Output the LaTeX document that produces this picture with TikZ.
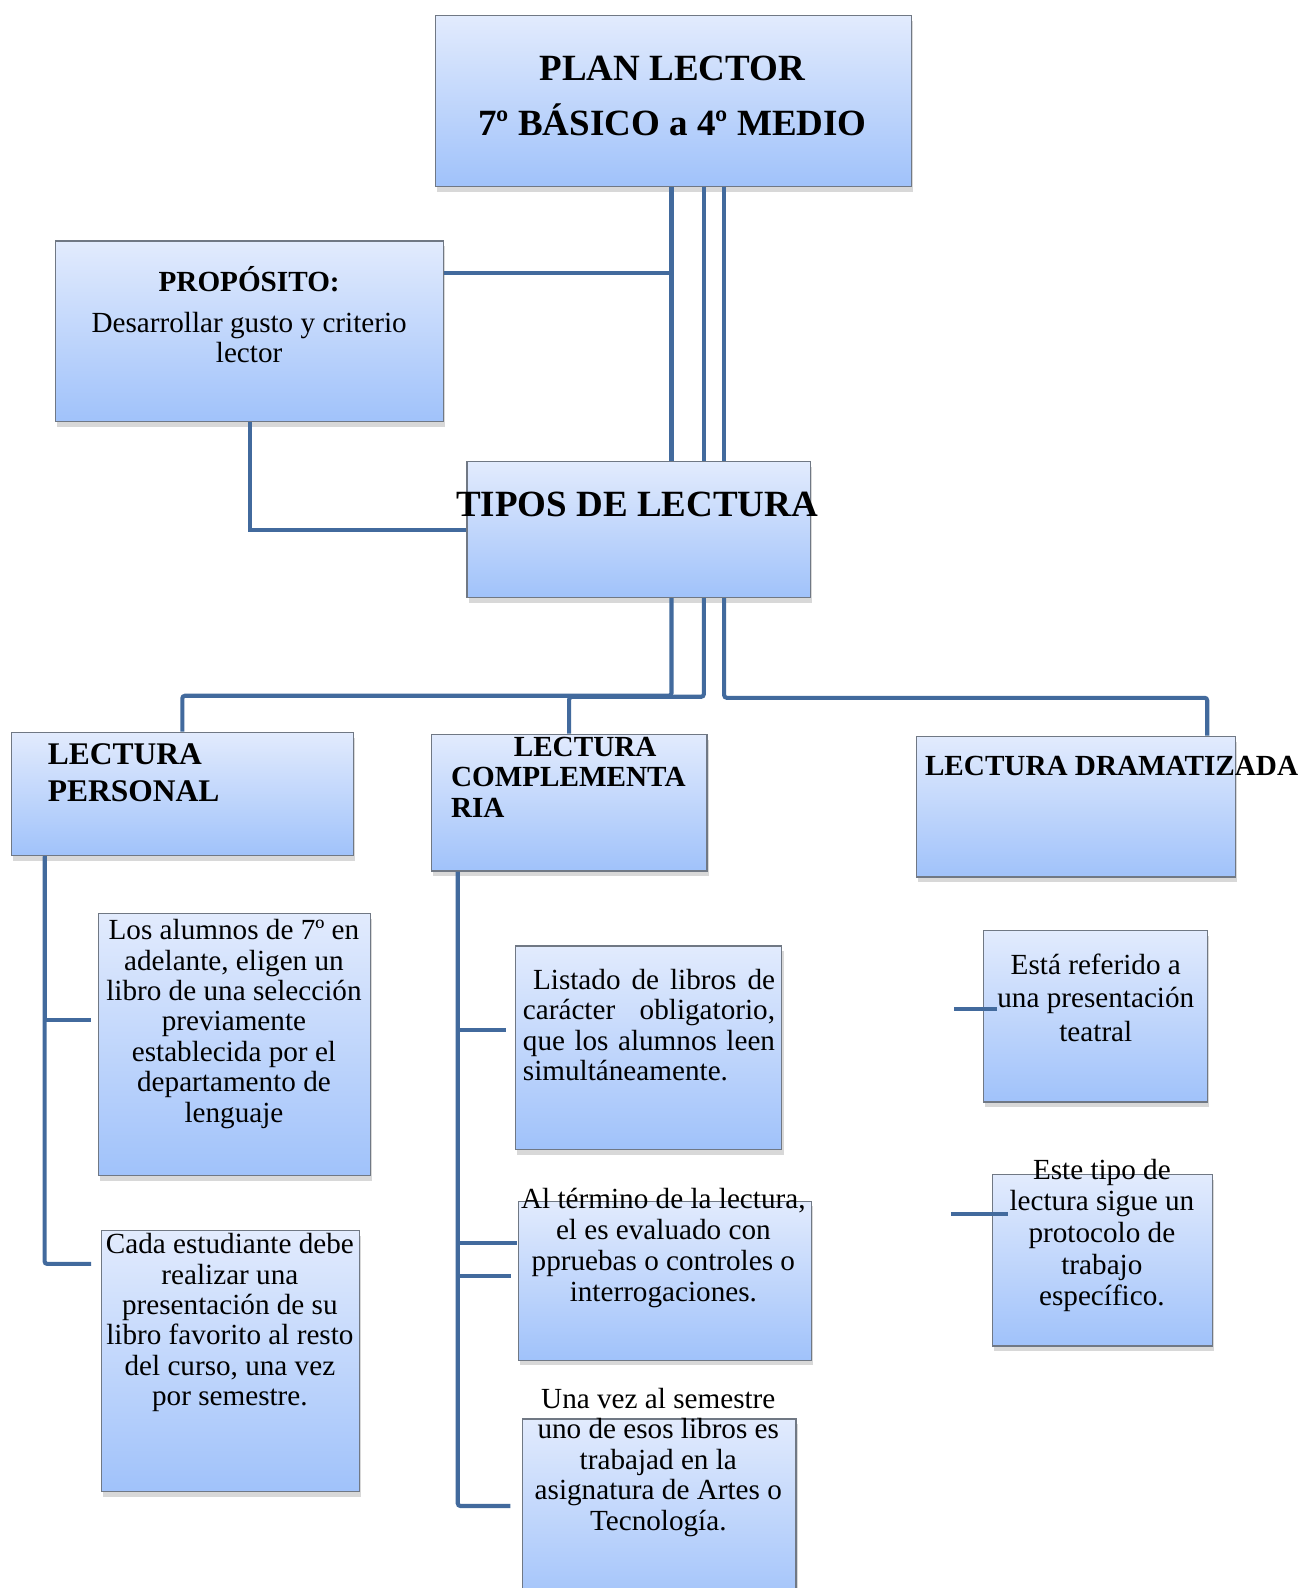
\documentclass[tikz,border=0pt]{standalone}
\usepackage{fontspec}
\setmainfont{Liberation Serif}
\usetikzlibrary{positioning}
\usetikzlibrary{calc}
\usetikzlibrary{shadows}
\definecolor{linkblue}{RGB}{66,106,157}
\definecolor{boxtop}{RGB}{226,235,253}
\definecolor{boxbot}{RGB}{160,194,250}
\definecolor{boxedge}{RGB}{112,120,132}
\newcommand{\planbox}[5]{%
    \pgfmathsetmacro{\boxw}{(#4-#2)*0.02}%
    \pgfmathsetmacro{\boxh}{(#5-#3)*0.02}%
    \node[box, minimum width=\boxw cm, minimum height=\boxh cm] (#1) at ({(#2+#4)/2},{(#3+#5)/2}) {};}
\tikzset{
    box/.style = {rectangle, draw=boxedge, line width=0.7pt, top color=boxtop, bottom color=boxbot, inner sep=0pt,
        drop shadow={opacity=0.3, shadow xshift=1pt, shadow yshift=-3pt}},
    link/.style = {draw=linkblue, line width=2.3pt},
    bodytxt/.style = {inner sep=0pt, align=center, font=\fontsize{16.4}{17.1}\selectfont},
    headtxt/.style = {inner sep=0pt, align=center, font=\fontsize{20.8}{30.7}\selectfont\bfseries},
    subhead/.style = {inner sep=0pt, align=left, font=\fontsize{16.4}{17.1}\selectfont\bfseries}}
\begin{document}
\begin{tikzpicture}[x=0.02cm, y=-0.02cm]
        \useasboundingbox[fill=white] (0,0) rectangle (1287,1568);
        % boxes
        \planbox{plan}{430}{15}{900}{184}
        \planbox{prop}{55}{238}{438}{416}
        \planbox{tipos}{461}{456}{800}{590}
        \planbox{lp}{11}{723}{349}{845}
        \planbox{lc}{426}{725}{698}{860}
        \planbox{ld}{905}{727}{1220}{866}
        \planbox{p1}{97}{902}{366}{1161}
        \planbox{p2}{100}{1215}{355}{1473}
        \planbox{c1}{509}{934}{772}{1135}
        \planbox{c2}{512}{1186}{801}{1343}
        \planbox{c3}{516}{1401}{786}{1590}
        \planbox{d1}{971}{919}{1192}{1088}
        \planbox{d2}{980}{1160}{1197}{1329}
        % connectors
        \coordinate (colA) at (663,0);
        \coordinate (colB) at (695,0);
        \coordinate (colC) at (715,0);
        \coordinate (propjoin) at (663,270);
        \coordinate (busL) at (0,687);
        \coordinate (busM) at (0,688);
        \coordinate (busR) at (0,689);
        \coordinate (ldcol) at (1192,0);
        \draw[link] (plan.south -| colA) -- (tipos.north -| colA) (plan.south -| colB) -- (tipos.north -| colB) (plan.south -| colC) -- (tipos.north -| colC);
        \draw[link] (prop.east |- propjoin) -- (propjoin);
        \draw[link] (prop.south) |- (tipos.west);
        \draw[link, rounded corners=1.5pt] (tipos.south -| colA) -- (colA |- busL) -| (lp.north);
        \draw[link, rounded corners=1.5pt] (tipos.south -| colB) -- (colB |- busM) -| (lc.north);
        \draw[link, rounded corners=1.5pt] (tipos.south -| colC) -- (colC |- busR) -| (ld.north -| ldcol);
        \coordinate (lpcol) at (44,0);
        \coordinate (p1tip) at (90,1007);
        \coordinate (p2tip) at (90,1248);
        \draw[link] (lp.south -| lpcol) |- (p1tip);
        \draw[link, rounded corners=1.5pt] (lp.south -| lpcol) |- (p2tip);
        \coordinate (lccol) at (452,0);
        \coordinate (c1tip) at (500,1017);
        \coordinate (c2tip) at (510,1227);
        \coordinate (c2tipb) at (505,1260);
        \coordinate (c3tip) at (504,1487);
        \draw[link] (lc.south -| lccol) |- (c1tip) (lc.south -| lccol) |- (c2tip) (lc.south -| lccol) |- (c2tipb);
        \draw[link, rounded corners=1.5pt] (lc.south -| lccol) |- (c3tip);
        \coordinate (d1tip) at (942,996);
        \coordinate (d2tip) at (939,1199);
        \draw[link] (d1tip) -- ($(d1tip -| d1.west)+(14,0)$);
        \draw[link] (d2tip) -- ($(d2tip -| d2.west)+(16,0)$);
        % texts
        \node[headtxt] (plantxt) at (664,95) {PLAN LECTOR\\7º BÁSICO a 4º MEDIO};
        \node[subhead] (proptitle) at (246,276) {PROPÓSITO:};
        \node[bodytxt] (propbody) at (246,333.5) {Desarrollar gusto y criterio\\lector};
        \node[headtxt] (tipostxt) at (629,498) {TIPOS DE LECTURA};
        \node[inner sep=0pt, anchor=west, align=left, font=\fontsize{17.7}{20.5}\selectfont\bfseries] (lptxt) at (47,763) {LECTURA\\PERSONAL};
        \node[subhead, anchor=west] (lctxt) at (445,767.5) {\hspace*{1.24cm}LECTURA\\COMPLEMENTA\\RIA};
        \node[subhead, anchor=west] (ldtxt) at (913,756) {LECTURA DRAMATIZADA};
        \node[bodytxt] (p1txt) at (231,1011) {Los alumnos de 7º en\\adelante, eligen un\\libro de una selección\\previamente\\establecida por el\\departamento de\\lenguaje};
        \node[bodytxt] (p2txt) at (227,1306) {Cada estudiante debe\\realizar una\\presentación de su\\libro favorito al resto\\del curso, una vez\\por semestre.};
        \node[bodytxt, anchor=west, align=left] (c1txt) at (516,1012) {\makebox[4.98cm][s]{\hspace{0.2cm}Listado de libros de}\\\makebox[4.98cm][s]{carácter obligatorio,}\\\makebox[4.98cm][s]{que los alumnos leen}\\simultáneamente.};
        \node[bodytxt, font=\fontsize{16.4}{17.5}\selectfont] (c2txt) at (655,1232) {Al término de la lectura,\\el es evaluado con\\ppruebas o controles o\\interrogaciones.};
        \node[bodytxt] (c3txt) at (650,1444) {Una vez al semestre\\uno de esos libros es\\trabajad en la\\asignatura de Artes o\\Tecnología.};
        \node[bodytxt, font=\fontsize{16.4}{18.8}\selectfont] (d1txt) at (1082,985) {Está referido a\\una presentación\\teatral};
        \node[bodytxt, font=\fontsize{16.4}{17.8}\selectfont] (d2txt) at (1088,1220) {Este tipo de\\lectura sigue un\\protocolo de\\trabajo\\específico.};
    \end{tikzpicture}
\end{document}
